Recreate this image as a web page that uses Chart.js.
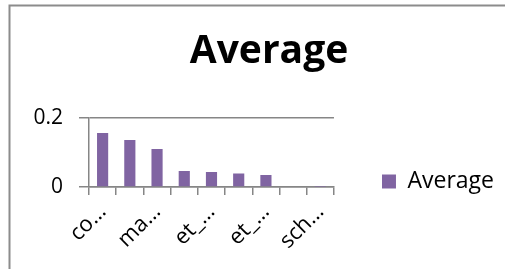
<!DOCTYPE html>
<html>
<head>
<meta charset="utf-8">
<script src="https://cdn.jsdelivr.net/npm/chart.js@4.4.0/dist/chart.umd.min.js"></script>
<style>
  html, body { margin: 0; padding: 0; background: #fff; }
  #wrap { width: 505px; height: 269px; position: relative; }
</style>
</head>
<body>
<div id="wrap"><canvas id="avgChart"></canvas></div>
<script>
// === DATA ===
const categories = ["co…", "cl…", "ma…", "me…", "et_…", "et_…", "et_…", "sc…", "sch…"];
const averageValues = [0.156, 0.136, 0.110, 0.046, 0.043, 0.039, 0.035, 0.002, 0.001];
const yTicks = [0, 0.2];

const purple = "#8064A2";
const axisGray = "#868686";

// frame round the chart (left + top edge, like the original picture)
// and nudge the title a bit to the right like in the original
const framePlugin = {
  id: "frame",
  afterLayout(chart) {
    if (chart.titleBlock) chart.titleBlock.left += 25;
  },
  beforeDraw(chart) {
    const c = chart.ctx;
    c.save();
    c.strokeStyle = "#8c8c8c";
    c.lineWidth = 2;
    c.beginPath();
    c.moveTo(9.5, 269);
    c.lineTo(9.5, 5.5);
    c.lineTo(505, 5.5);
    c.stroke();
    c.restore();
  }
};

const ctx = document.getElementById("avgChart");

new Chart(ctx, {
  type: "bar",
  data: {
    labels: categories,
    datasets: [{
      label: "Average",
      data: averageValues,
      backgroundColor: purple,
      barPercentage: 0.41,
      categoryPercentage: 1
    }]
  },
  options: {
    responsive: true,
    maintainAspectRatio: false,
    animation: false,
    layout: { padding: { left: 9, right: 1, top: 0, bottom: 0 } },
    plugins: {
      legend: {
        position: "right",
        align: "start",
        maxWidth: 220,
        title: { display: true, text: "", font: { size: 1, lineHeight: 1 }, padding: { top: 121, bottom: 0 } },
        labels: {
          boxWidth: 14,
          boxHeight: 14,
          padding: 48,
          color: "#000",
          font: { family: "Open Sans", size: 23 }
        }
      },
      title: {
        display: true,
        text: "Average",
        color: "#000",
        font: { family: "Open Sans", size: 39, weight: "bold", lineHeight: 1.2 },
        padding: { top: 28, bottom: 43 }
      },
      tooltip: { enabled: false }
    },
    scales: {
      x: {
        grid: {
          drawOnChartArea: false,
          drawTicks: true,
          tickLength: 8,
          color: axisGray,
          lineWidth: 1.5
        },
        border: { color: axisGray, width: 1.5 },
        ticks: {
          autoSkip: false,
          maxRotation: 45,
          minRotation: 45,
          padding: 4,
          color: "#000",
          font: { family: "Open Sans", size: 22 },
          callback: function (val, i) { return i % 2 === 0 ? categories[i] : ""; }
        },
        afterFit(scale) { scale.height = 82; }
      },
      y: {
        min: 0,
        max: 0.2,
        afterBuildTicks(scale) { scale.ticks = yTicks.map(v => ({ value: v })); },
        grid: {
          color: axisGray,
          lineWidth: 1.5,
          tickLength: 10
        },
        border: { color: axisGray, width: 1.5 },
        ticks: {
          padding: 16,
          color: "#000",
          font: { family: "Open Sans", size: 21 }
        },
        afterFit(scale) { scale.width = 80; }
      }
    }
  },
  plugins: [framePlugin]
});
</script>
</body>
</html>
